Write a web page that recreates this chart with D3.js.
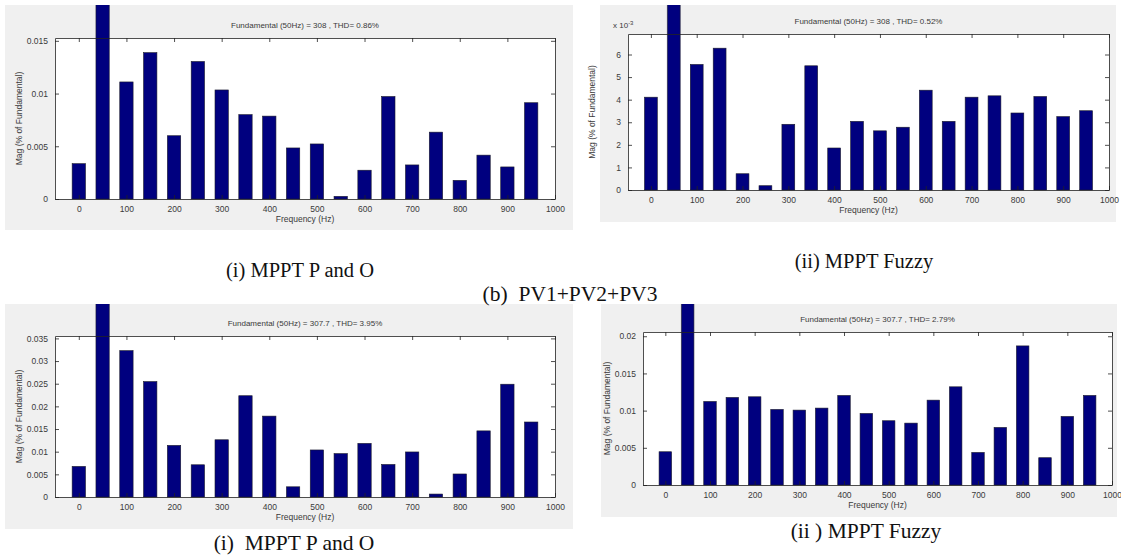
<!DOCTYPE html>
<html><head><meta charset="utf-8">
<script src="https://cdn.jsdelivr.net/npm/d3@7"></script>
<style>
html,body{margin:0;padding:0;background:#fff;}
svg{display:block;}
</style></head>
<body>
<svg id="chart" width="1121" height="556"></svg>
<script>
// ---------- DATA ----------
const frequencies = [0,50,100,150,200,250,300,350,400,450,500,550,600,650,700,750,800,850,900,950];
const fundamental = 100; // % of fundamental at 50 Hz (bar runs off the axes)

const magPOtop   = [0.00335,fundamental,0.0111,0.01388,0.0060,0.01304,0.01034,0.0080,0.00786,0.00484,0.00522,0.00025,0.00273,0.00972,0.00323,0.00634,0.00177,0.00416,0.00304,0.00913];
const magFuzzyTop= [0.00411,fundamental,0.00556,0.00628,0.00072,0.00019,0.00291,0.00550,0.00186,0.00304,0.00262,0.00278,0.00442,0.00304,0.00411,0.00417,0.00341,0.00414,0.00325,0.00351];
const magPObot   = [0.00675,fundamental,0.0323,0.02547,0.01139,0.00711,0.01263,0.02235,0.01785,0.00225,0.01038,0.00958,0.01183,0.00718,0.00994,0.00065,0.00508,0.01459,0.02489,0.01655];
const magFuzzyBot= [0.00447,fundamental,0.01123,0.01177,0.01186,0.01016,0.01007,0.01034,0.01204,0.00962,0.00864,0.00832,0.01141,0.0132,0.00438,0.00774,0.0187,0.00367,0.00922,0.01204];

const xTicks = [0,100,200,300,400,500,600,700,800,900,1000];
const yTicksPOtop = [0,0.005,0.01,0.015];
const yTickLabelsPOtop = ["0","0.005","0.01","0.015"];
const yTicksFuzzyTop = [0,0.001,0.002,0.003,0.004,0.005,0.006];
const yTickLabelsFuzzyTop = ["0","1","2","3","4","5","6"];
const yTicksPObot = [0,0.005,0.01,0.015,0.02,0.025,0.03,0.035];
const yTickLabelsPObot = ["0","0.005","0.01","0.015","0.02","0.025","0.03","0.035"];
const yTicksFuzzyBot = [0,0.005,0.01,0.015,0.02];
const yTickLabelsFuzzyBot = ["0","0.005","0.01","0.015","0.02"];

const titles = [
  "Fundamental (50Hz) = 308 , THD= 0.86%",
  "Fundamental (50Hz) = 308 , THD= 0.52%",
  "Fundamental (50Hz) = 307.7 , THD= 3.95%",
  "Fundamental (50Hz) = 307.7 , THD= 2.79%"
];
const xLabel = "Frequency (Hz)";
const yLabel = "Mag (% of Fundamental)";
const captions = [
  {t:"(i) MPPT P and O", x:300, y:277, s:20.5},
  {t:"(ii) MPPT Fuzzy", x:864, y:268, s:20.5},
  {t:"(b)  PV1+PV2+PV3", x:570, y:301, s:21.5},
  {t:"(i)  MPPT P and O", x:294, y:550, s:21.5},
  {t:"(ii ) MPPT Fuzzy", x:866, y:538, s:21.5}
];

// ---------- DRAW ----------
const svg = d3.select("#chart");
const fontM = "'Liberation Sans', Arial, sans-serif";
const txtCol = "#3a3a3a";

const panels = [
  {bg:[5,5,568,225],   box:{l:55,r:555,t:38,b:199},  vals:magPOtop,   yt:yTicksPOtop,   yl:yTickLabelsPOtop,   title:titles[0], mult:false},
  {bg:[600,5,516,217], box:{l:628,r:1109,t:34,b:190}, vals:magFuzzyTop,yt:yTicksFuzzyTop,yl:yTickLabelsFuzzyTop,title:titles[1], mult:true},
  {bg:[5,304,568,225], box:{l:55,r:555,t:336,b:497}, vals:magPObot,   yt:yTicksPObot,   yl:yTickLabelsPObot,   title:titles[2], mult:false},
  {bg:[601,304,516,213],box:{l:643,r:1112,t:332,b:485},vals:magFuzzyBot,yt:yTicksFuzzyBot,yl:yTickLabelsFuzzyBot,title:titles[3], mult:false}
];

panels.forEach((p,i) => {
  const g = svg.append("g");
  const [bx,by,bw,bh] = p.bg;
  g.append("rect").attr("x",bx).attr("y",by).attr("width",bw).attr("height",bh).attr("fill","#f0f0f0");
  const clipId = "clip"+i;
  g.append("clipPath").attr("id",clipId).append("rect").attr("x",bx).attr("y",by).attr("width",bw).attr("height",bh);

  const B = p.box;
  g.append("rect").attr("x",B.l).attr("y",B.t).attr("width",B.r-B.l).attr("height",B.b-B.t).attr("fill","#fff");

  const x = d3.scaleLinear().domain([-50,1000]).range([B.l,B.r]);
  const harmonics = p.vals.filter((v,k)=>frequencies[k]!==50);
  const y = d3.scaleLinear().domain([0, d3.max(harmonics)*1.1]).range([B.b,B.t]);
  const bwid = (x(50)-x(0))*0.56;

  g.append("g").attr("clip-path",`url(#${clipId})`)
    .selectAll("rect").data(frequencies.map((f,k)=>({f,v:p.vals[k]}))).join("rect")
    .attr("x",d=>x(d.f)-bwid/2)
    .attr("width",bwid)
    .attr("y",d=>y(d.v))
    .attr("height",d=>y(0)-y(d.v))
    .attr("fill","#00007f")
    .attr("stroke","#1a1a2a").attr("stroke-width",0.6);

  const axB = d3.axisBottom(x).tickValues(xTicks).tickSizeInner(-4).tickSizeOuter(0).tickPadding(7).tickFormat(d3.format("d"));
  const axT = d3.axisTop(x).tickValues(xTicks).tickSizeInner(-4).tickSizeOuter(0).tickFormat("");
  const axL = d3.axisLeft(y).tickValues(p.yt).tickSizeInner(-4).tickSizeOuter(0).tickPadding(7).tickFormat((d,k)=>p.yl[k]);
  const axR = d3.axisRight(y).tickValues(p.yt).tickSizeInner(-4).tickSizeOuter(0).tickFormat("");

  const styleAx = s => { s.selectAll("path").attr("stroke","#222").attr("stroke-width",0.8);
    s.selectAll("line").attr("stroke","#222").attr("stroke-width",0.8);
    s.selectAll("text").attr("fill",txtCol).style("font-family",fontM).style("font-size","8.5px"); };

  g.append("g").attr("transform",`translate(0,${B.b})`).call(axB).call(styleAx);
  g.append("g").attr("transform",`translate(0,${B.t})`).call(axT).call(styleAx);
  g.append("g").attr("transform",`translate(${B.l},0)`).call(axL).call(styleAx);
  g.append("g").attr("transform",`translate(${B.r},0)`).call(axR).call(styleAx);

  g.append("text").attr("x",(B.l+B.r)/2).attr("y",B.t-10).attr("text-anchor","middle")
    .attr("fill",txtCol).style("font-family",fontM).style("font-size","8px").text(p.title);
  g.append("text").attr("x",(B.l+B.r)/2).attr("y",B.b+23).attr("text-anchor","middle")
    .attr("fill",txtCol).style("font-family",fontM).style("font-size","8.5px").text(xLabel);
  g.append("text").attr("transform",`translate(${B.l-33},${(B.t+B.b)/2}) rotate(-90)`).attr("text-anchor","middle")
    .attr("fill",txtCol).style("font-family",fontM).style("font-size","8.5px").text(yLabel);
  if (p.mult) {
    const m = g.append("text").attr("x",B.l-15).attr("y",B.t-6).attr("fill",txtCol).style("font-family",fontM).style("font-size","8px");
    m.append("tspan").text("x 10");
    m.append("tspan").attr("dy",-3).style("font-size","6px").text("-3");
  }
});

captions.forEach(c => {
  svg.append("text").attr("x",c.x).attr("y",c.y).attr("text-anchor","middle")
    .style("font-family","'Liberation Serif','Times New Roman',serif").style("font-size",c.s+"px")
    .style("white-space","pre")
    .attr("fill","#111").text(c.t);
});
</script>
</body></html>
